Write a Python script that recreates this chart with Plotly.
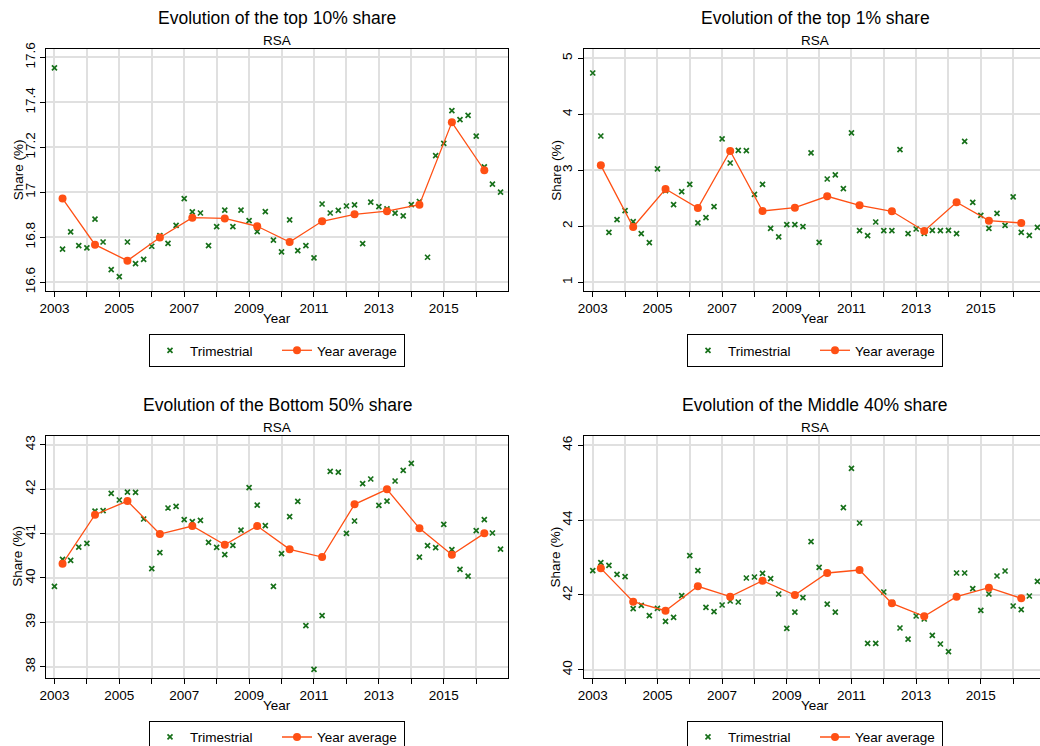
import plotly.graph_objects as go

years = list(range(2003, 2017))
quarter_offsets = [0.0, 0.25, 0.5, 0.75]
quarters = [y + q for y in years for q in quarter_offsets]
year_pos = [y + 0.25 for y in years]

top10_q = [17.553, 16.747, 16.824, 16.763, 16.753, 16.881, 16.779, 16.656,
           16.625, 16.779, 16.683, 16.702, 16.760, 16.807, 16.773, 16.853,
           16.972, 16.913, 16.908, 16.763, 16.847, 16.921, 16.847, 16.921,
           16.874, 16.825, 16.914, 16.787, 16.735, 16.877, 16.741, 16.763,
           16.708, 16.948, 16.908, 16.920, 16.939, 16.944, 16.772, 16.956,
           16.936, 16.926, 16.907, 16.895, 16.945, 16.959, 16.711, 17.163,
           17.218, 17.363, 17.323, 17.342, 17.250, 17.113, 17.036, 17.001]
top10_y = [16.972, 16.767, 16.696, 16.799, 16.887, 16.884, 16.849,
           16.779, 16.871, 16.902, 16.916, 16.945, 17.311, 17.098]

top1_q = [4.738, 3.613, 1.893, 2.119, 2.280, 2.083, 1.869, 1.708,
          3.024, 2.638, 2.387, 2.619, 2.750, 2.060, 2.155, 2.351,
          3.560, 3.131, 3.357, 3.351, 2.571, 2.750, 1.964, 1.810,
          2.030, 2.030, 1.994, 3.310, 1.714, 2.845, 2.917, 2.673,
          3.667, 1.923, 1.833, 2.077, 1.923, 1.923, 3.369, 1.869,
          1.952, 1.875, 1.929, 1.923, 1.929, 1.869, 3.518, 2.429,
          2.196, 1.964, 2.232, 2.018, 2.524, 1.893, 1.839, 1.982]
top1_y = [3.089, 1.988, 2.667, 2.327, 3.345, 2.274, 2.333,
          2.536, 2.375, 2.268, 1.917, 2.429, 2.101, 2.060]

bot50_q = [39.809, 40.417, 40.395, 40.695, 40.778, 41.506, 41.514, 41.904,
           41.754, 41.934, 41.926, 41.326, 40.207, 40.568, 41.574, 41.611,
           41.311, 41.266, 41.296, 40.800, 40.688, 40.523, 40.733, 41.078,
           42.032, 41.641, 41.176, 39.809, 40.545, 41.378, 41.724, 38.923,
           37.940, 39.149, 42.399, 42.384, 41.003, 41.281, 42.122, 42.227,
           41.634, 41.731, 42.182, 42.422, 42.580, 40.470, 40.725, 40.680,
           41.206, 40.635, 40.192, 40.042, 41.063, 41.311, 41.011, 40.650]
bot50_y = [40.320, 41.423, 41.731, 40.988, 41.168, 40.748, 41.168,
           40.643, 40.470, 41.656, 41.994, 41.116, 40.523, 41.003]

mid40_q = [42.648, 42.862, 42.791, 42.550, 42.487, 41.632, 41.721, 41.444,
           41.641, 41.293, 41.400, 41.979, 43.049, 42.648, 41.667, 41.551,
           41.730, 41.837, 41.810, 42.452, 42.479, 42.577, 42.434, 42.024,
           41.106, 41.542, 41.926, 43.424, 42.737, 41.756, 41.542, 44.333,
           45.385, 43.923, 40.704, 40.704, 42.077, 41.792, 41.115, 40.820,
           41.436, 41.355, 40.918, 40.687, 40.482, 42.586, 42.586, 42.167,
           41.587, 42.024, 42.505, 42.639, 41.703, 41.605, 41.970, 42.363]
mid40_y = [42.710, 41.819, 41.578, 42.229, 41.953, 42.380, 41.997,
           42.586, 42.666, 41.774, 41.427, 41.953, 42.193, 41.908]

titles = ["Evolution of the top 10% share", "Evolution of the top 1% share",
          "Evolution of the Bottom 50% share", "Evolution of the Middle 40% share"]
subtitle = "RSA"
x_tick_text = [str(y) if y % 2 == 1 else "" for y in years]

ytick_vals = [[16.6, 16.8, 17.0, 17.2, 17.4, 17.6], [1, 2, 3, 4, 5],
              [38, 39, 40, 41, 42, 43], [40, 42, 44, 46]]
ytick_text = [["16.6", "16.8", "17", "17.2", "17.4", "17.6"], ["1", "2", "3", "4", "5"],
              ["38", "39", "40", "41", "42", "43"], ["40", "42", "44", "46"]]
y_ranges = [[16.561, 17.636], [0.845, 5.161], [37.752, 43.196], [39.786, 46.249]]

series_q = [top10_q, top1_q, bot50_q, mid40_q]
series_y = [top10_y, top1_y, bot50_y, mid40_y]

W, H = 1040, 746
GREEN = "#17701a"
ORANGE = "#ff5014"
FONT = "Liberation Sans, Arial, Helvetica, sans-serif"

# pixel geometry of plot areas (left, right, top, bottom)
boxes = [(46, 508, 49.3, 291), (583.7, 1040, 49.3, 291),
         (46, 508, 436, 677.7), (583.7, 1040, 436, 677.7)]
x_ranges = [[2002.74, 2016.98], [2002.72, 2016.83], [2002.74, 2016.98], [2002.72, 2016.83]]
centers = [277, 815, 277, 815]

fig = go.Figure()
layout = dict(width=W, height=H,
              margin=dict(l=0, r=0, t=0, b=0, autoexpand=False),
              template="none",
              paper_bgcolor="white", plot_bgcolor="white",
              font=dict(family=FONT, size=13, color="black"),
              annotations=[])

for i in range(4):
    sfx = "" if i == 0 else str(i + 1)
    leg = "legend" if i == 0 else "legend" + str(i + 1)
    right = i % 2 == 1
    fig.add_trace(go.Scatter(
        x=quarters, y=series_q[i], mode="markers", name="Trimestrial",
        marker=dict(symbol="x-thin", size=5, color=GREEN,
                    line=dict(width=1.7, color=GREEN)),
        xaxis="x" + sfx, yaxis="y" + sfx, legend=leg, cliponaxis=False))
    fig.add_trace(go.Scatter(
        x=year_pos, y=series_y[i], mode="lines+markers", name="Year average",
        line=dict(color=ORANGE, width=1.3),
        marker=dict(symbol="circle", size=8, color=ORANGE),
        xaxis="x" + sfx, yaxis="y" + sfx, legend=leg))

    l, r, t, b = boxes[i]
    xd = [l / W, r / W]
    yd = [1 - b / H, 1 - t / H]
    layout["xaxis" + sfx] = dict(
        domain=xd, range=x_ranges[i], anchor="y" + sfx, automargin=False,
        tickmode="array", tickvals=years, ticktext=x_tick_text,
        ticks="outside", ticklen=5, tickcolor="black", tickwidth=1,
        showgrid=True, gridcolor="#e0e0e0", gridwidth=1.5,
        showline=True, linecolor="black", linewidth=1, mirror=True,
        zeroline=False, tickfont=dict(size=13.5, family=FONT))
    layout["yaxis" + sfx] = dict(
        domain=yd, range=y_ranges[i], anchor="x" + sfx, automargin=False,
        tickmode="array", tickvals=ytick_vals[i], ticktext=ytick_text[i],
        tickangle=-90,
        ticks="outside", ticklen=5, tickcolor="black", tickwidth=1,
        showgrid=True, gridcolor="#e0e0e0", gridwidth=1.5,
        showline=True, linecolor="black", linewidth=1, mirror=not right,
        zeroline=False, tickfont=dict(size=13.5, family=FONT))

    cx = centers[i] / W
    pc = (l + (l + 462)) / 2 / W
    # title and subtitle
    layout["annotations"].append(dict(
        text=titles[i], x=cx, y=1 - (t - 31) / H, xref="paper", yref="paper",
        xanchor="center", yanchor="middle", showarrow=False,
        font=dict(size=17.5, family=FONT)))
    layout["annotations"].append(dict(
        text=subtitle, x=cx, y=1 - (t - 9) / H, xref="paper", yref="paper",
        xanchor="center", yanchor="middle", showarrow=False,
        font=dict(size=13.5, family=FONT)))
    # axis titles
    layout["annotations"].append(dict(
        text="Year", x=pc, y=1 - (b + 28) / H, xref="paper", yref="paper",
        xanchor="center", yanchor="middle", showarrow=False,
        font=dict(size=13.5, family=FONT)))
    layout["annotations"].append(dict(
        text="Share (%)", x=(l - 28) / W, y=1 - ((t + b) / 2) / H,
        xref="paper", yref="paper", textangle=-90,
        xanchor="center", yanchor="middle", showarrow=False,
        font=dict(size=13.5, family=FONT)))
    # legend
    layout[leg] = dict(
        orientation="h", x=cx, xanchor="center", y=1 - (b + 43) / H, yanchor="top",
        bordercolor="black", borderwidth=1, bgcolor="white",
        font=dict(size=13.5, family=FONT), entrywidth=82, entrywidthmode="pixels",
        itemsizing="trace", tracegroupgap=0)

fig.update_layout(**layout)
fig.write_html("out.html", config={"displayModeBar": False},
               post_script="document.body.style.margin='0px';document.body.style.overflow='hidden';")
